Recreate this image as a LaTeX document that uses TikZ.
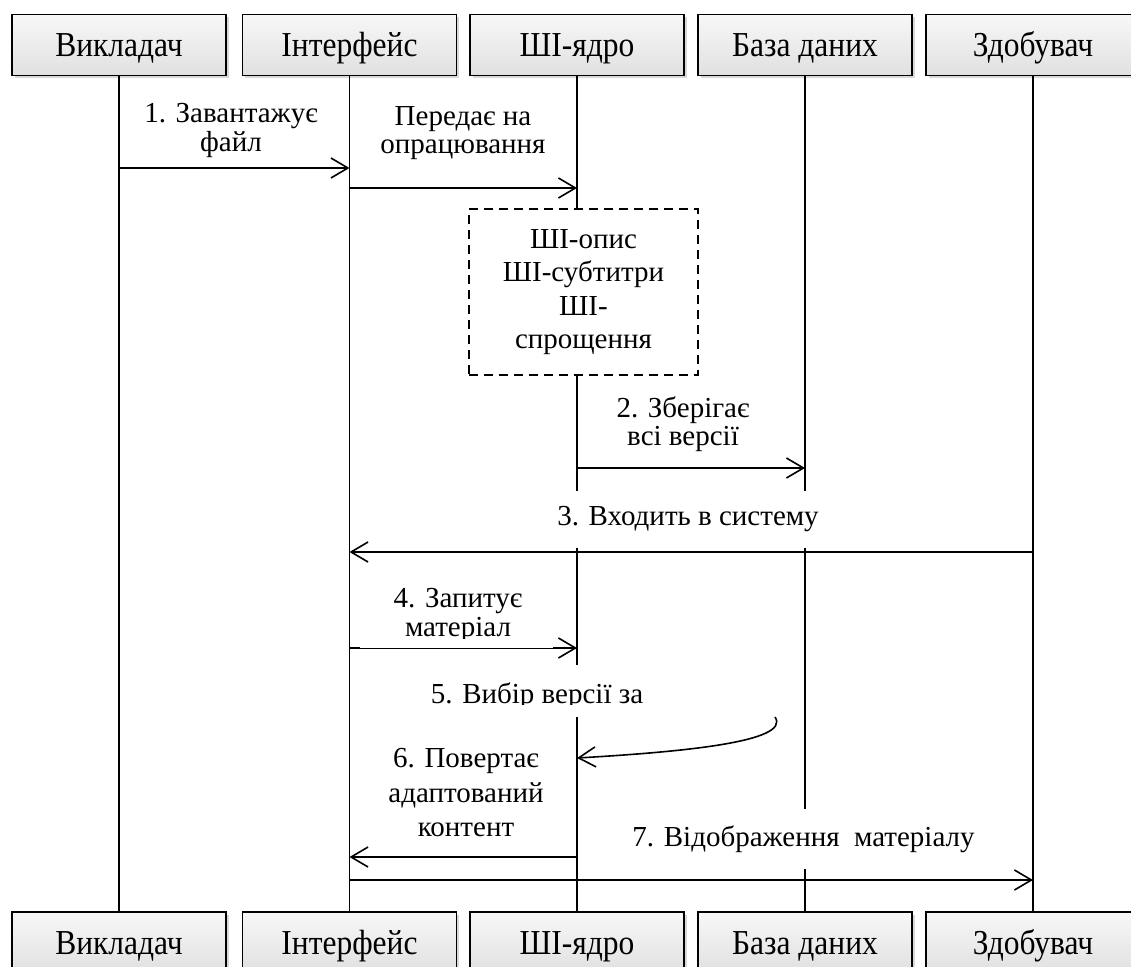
\documentclass[tikz,border=0pt]{standalone}
\usepackage{fontspec}
\setmainfont{Liberation Serif}
\newfontfamily\boxfont{Liberation Serif}[FakeStretch=0.9]
\usetikzlibrary{arrows.meta,shadows}
\begin{document}
\begin{tikzpicture}[x=1pt,y=-1pt,
  actor/.style={draw=black, line width=1.4pt, minimum width=214pt, minimum height=61pt, inner sep=0pt,
     top color=gray!6, bottom color=gray!24,
     drop shadow={shadow xshift=2.5pt,shadow yshift=-2.5pt,opacity=0.3},
     font=\boxfont\fontsize{35}{40}\selectfont, text height=25.2pt, text depth=2.1pt},
  life/.style={line width=1.8pt},
  msg/.style={line width=1.8pt, -{Straight Barb[length=17pt,width=20pt,line width=1.6pt]}},
  lbl/.style={font=\fontsize{29}{33}\selectfont, inner sep=0pt, align=center},
  aibox/.style={draw=black, line width=1.8pt, dash pattern=on 9pt off 6pt, fill=white,
     minimum width=229pt, minimum height=166pt, inner sep=0pt, align=center,
     font=\fontsize{29}{33.3}\selectfont},
]
\useasboundingbox (0,0) rectangle (1131,966);
\fill[white] (0,0) rectangle (1131,966);

% actors top
\node[actor] (t1) at (119,45) {Викладач};
\node[actor] (t2) at (349.5,45) {Інтерфейс};
\node[actor] (t3) at (577,45) {ШІ-ядро};
\node[actor] (t4) at (805,45) {База даних};
\node[actor] (t5) at (1033,45) {Здобувач};
% actors bottom
\node[actor] (b1) at (119,942.5) {Викладач};
\node[actor] (b2) at (349.5,942.5) {Інтерфейс};
\node[actor] (b3) at (577,942.5) {ШІ-ядро};
\node[actor] (b4) at (805,942.5) {База даних};
\node[actor] (b5) at (1033,942.5) {Здобувач};

% lifelines
\draw[life] (t1) -- (b1);
\draw[life] (t2) -- (b2);
\draw[life] (t3) -- (b3);
\draw[life] (t4) -- (b4);
\draw[life] (t5) -- (b5);

% AI processing box
\node[aibox] (ai) at (583.5,292) {ШІ-опис\\ШІ-субтитри\\ШІ-\\спрощення};

% messages
\draw[msg] (t1 |- 0,168) -- (t2 |- 0,168);
\draw[msg] (t2 |- 0,188) -- (t3 |- 0,188);
\draw[msg] (t3 |- 0,468) -- (t4 |- 0,468);
\draw[msg] (t5 |- 0,552) -- (t2 |- 0,552);
\draw[msg] (t2 |- 0,648) -- (t3 |- 0,648);
\coordinate (c5) at (775,717);
\draw[msg, line width=1.6pt] (c5) .. controls (792,742) and (680,752) .. (t3 |- 0,758);
\draw[msg, line width=1.6pt] (t3 |- 0,857) -- (t2 |- 0,857);
\draw[msg, line width=1.6pt] (t2 |- 0,880) -- (t5 |- 0,880);

% labels
\node[lbl, font=\fontsize{29}{28.7}\selectfont] (l1) at (231,130.8) {1. Завантажує\\файл};
\node[lbl, font=\fontsize{29}{27.5}\selectfont] (l1b) at (463,133) {Передає на\\опрацювання};
\node[lbl, font=\fontsize{29}{28}\selectfont] (l2) at (683,424.4) {2. Зберігає\\всі версії};
\node[lbl, fill=white, minimum width=275pt, minimum height=57pt] (l3) at (688,519.5) {3. Входить в систему};

\fill[white] (360,585) rectangle (553,648);
\begin{scope}
  \clip (355,580) rectangle (560,638.5);
  \node[lbl, font=\fontsize{29}{29}\selectfont] (l4) at (458,615.9) {4. Запитує\\матеріал};
\end{scope}

\fill[white] (425,665) rectangle (650,717);
\begin{scope}
  \clip (420,660) rectangle (655,704);
  \node[lbl, anchor=base] (l5) at (537,703) {5. Вибір версії за};
\end{scope}

\node[lbl, font=\fontsize{29}{34.5}\selectfont] (l6) at (466,792.7) {6. Повертає\\адаптований\\контент};
\node[lbl, fill=white, minimum width=360pt, minimum height=60pt] (l7) at (803.5,839) {7. Відображення\ \ матеріалу};
\end{tikzpicture}
\end{document}
